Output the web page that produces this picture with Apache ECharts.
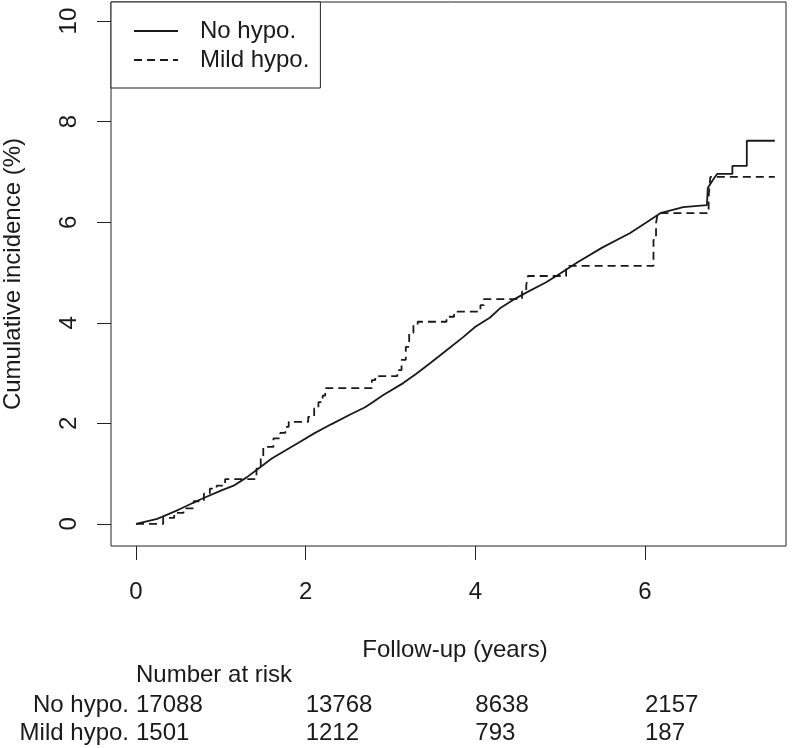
<!DOCTYPE html>
<html>
<head>
<meta charset="utf-8">
<script src="https://cdn.jsdelivr.net/npm/echarts@6/dist/echarts.min.js"></script>
<style>
html,body{margin:0;padding:0;background:#fff;}
#chart{width:800px;height:748px;}
</style>
</head>
<body>
<div id="chart"></div>
<script>
// ---- data ----
const seriesNames = ['No hypo.', 'Mild hypo.'];
const xTicks = [0, 2, 4, 6];
const yTicks = [0, 2, 4, 6, 8, 10];
// cumulative incidence (%) vs follow-up (years)
const noHypoCurve = [
  [0,0],[0.25,0.1],[0.5,0.28],[0.75,0.48],[1.0,0.66],[1.15,0.76],[1.3,0.92],[1.46,1.12],
  [1.6,1.3],[1.8,1.5],[1.93,1.63],[2.1,1.8],[2.3,1.98],[2.52,2.17],[2.7,2.32],[2.79,2.42],
  [2.91,2.56],[3.15,2.8],[3.3,2.98],[3.47,3.2],[3.65,3.44],[3.86,3.72],[4.0,3.92],[4.17,4.1],
  [4.3,4.3],[4.44,4.45],[4.6,4.6],[4.84,4.81],[5.0,4.98],[5.2,5.2],[5.5,5.5],[5.82,5.78],
  [6.02,6.0],[6.18,6.18],[6.45,6.3],[6.73,6.34],[6.74,6.68],[6.8,6.84],[6.85,6.96],
  [7.03,6.96],[7.03,7.12],[7.2,7.12],[7.2,7.62],[7.53,7.62]
];
// step changes: value holds from time onward
const mildHypoCurve = [
  [0,0],[0.32,0.12],[0.45,0.22],[0.56,0.31],[0.68,0.45],[0.8,0.6],[0.87,0.7],[0.95,0.76],
  [1.05,0.89],[1.42,1.1],[1.47,1.3],[1.5,1.53],[1.62,1.7],[1.7,1.81],[1.76,1.93],[1.8,2.03],
  [2.03,2.13],[2.1,2.3],[2.15,2.42],[2.2,2.55],[2.23,2.7],[2.78,2.86],[2.82,2.94],[3.08,3.06],
  [3.13,3.26],[3.18,3.52],[3.22,3.8],[3.27,3.96],[3.32,4.02],[3.66,4.12],[3.75,4.22],
  [4.06,4.35],[4.1,4.47],[4.55,4.62],[4.6,4.75],[4.62,4.93],[5.07,5.13],[6.1,5.65],
  [6.13,5.98],[6.15,6.18],[6.75,6.5],[6.77,6.9],[7.53,6.9]
];
const riskTitle = 'Number at risk';
const riskTimes = [0, 2, 4, 6];
const riskNoHypo = [17088, 13768, 8638, 2157];
const riskMildHypo = [1501, 1212, 793, 187];

// ---- chart ----
const FONT = "'Liberation Sans', Arial, sans-serif";
const INK = '#1a1a1a';
const X_MIN = -0.295, X_MAX = 7.662;

const riskData = [];
riskTimes.forEach((t, i) => {
  riskData.push([t, seriesNames[0], riskNoHypo[i]]);
  riskData.push([t, seriesNames[1], riskMildHypo[i]]);
});

const chart = echarts.init(document.getElementById('chart'), null, {renderer: 'canvas'});
chart.setOption({
  animation: false,
  backgroundColor: '#fff',
  textStyle: {fontFamily: FONT, color: INK},
  grid: [
    {left: 111, right: 14, top: 2, height: 544, show: true, borderColor: '#222', borderWidth: 1,
     outerBoundsMode: 'none', containLabel: false},
    {left: 136, right: 14, top: 691, height: 56, outerBoundsMode: 'none', containLabel: false}
  ],
  legend: {
    left: 111, top: 2, orient: 'vertical',
    backgroundColor: '#fff', borderColor: '#222', borderWidth: 1,
    padding: [17, 11, 16, 22], itemGap: 5, itemWidth: 44, itemHeight: 14,
    itemStyle: {opacity: 0},
    textStyle: {fontSize: 24, fontFamily: FONT, color: INK, padding: [0, 0, 0, 17], lineHeight: 24},
    data: seriesNames
  },
  xAxis: [
    {type: 'value', gridIndex: 0, min: X_MIN, max: X_MAX,
     axisLine: {show: false, onZero: false}, splitLine: {show: false},
     axisTick: {show: true, customValues: xTicks, length: 14, lineStyle: {color: '#222', width: 1}},
     axisLabel: {customValues: xTicks, margin: 34, fontSize: 24, color: INK, fontFamily: FONT},
     name: 'Follow-up (years)', nameLocation: 'middle', nameGap: 92,
     nameTextStyle: {fontSize: 24, color: INK, fontFamily: FONT, padding: [0, 0, 0, 13]}},
    {type: 'value', gridIndex: 1, min: 0, max: X_MAX, show: false}
  ],
  yAxis: [
    {type: 'value', gridIndex: 0, min: -0.44, max: 10.38,
     axisLine: {show: false, onZero: false}, splitLine: {show: false},
     axisTick: {show: true, customValues: yTicks, length: 14, lineStyle: {color: '#222', width: 1}},
     axisLabel: {customValues: yTicks, rotate: 90, margin: 30, fontSize: 24, color: INK, fontFamily: FONT},
     name: 'Cumulative incidence (%)', nameLocation: 'middle', nameGap: 86, nameRotate: 90,
     nameTextStyle: {fontSize: 24, color: INK, fontFamily: FONT}},
    {type: 'category', gridIndex: 1, data: seriesNames, inverse: true,
     axisLine: {show: false, onZero: false}, axisTick: {show: false}, splitLine: {show: false},
     axisLabel: {interval: 0, margin: 7, fontSize: 24, color: INK, fontFamily: FONT},
     name: riskTitle, nameLocation: 'start', nameGap: 4,
     nameTextStyle: {fontSize: 24, color: INK, fontFamily: FONT, align: 'left', verticalAlign: 'bottom'}}
  ],
  series: [
    {name: seriesNames[0], type: 'line', xAxisIndex: 0, yAxisIndex: 0, data: noHypoCurve,
     symbol: 'none', lineStyle: {color: INK, width: 1.8, type: 'solid'}, itemStyle: {color: INK}},
    {name: seriesNames[1], type: 'line', xAxisIndex: 0, yAxisIndex: 0, data: mildHypoCurve,
     step: 'end', symbol: 'none', lineStyle: {color: INK, width: 1.8, type: [8, 5]}, itemStyle: {color: INK}},
    {name: 'risk', type: 'scatter', xAxisIndex: 1, yAxisIndex: 1, data: riskData,
     symbolSize: 0, silent: true, encode: {x: 0, y: 1}, itemStyle: {opacity: 1, color: INK},
     label: {show: true, position: 'right', distance: 0, fontSize: 24, color: INK, fontFamily: FONT,
             opacity: 1, formatter: p => String(p.value[2])}}
  ]
});
</script>
</body>
</html>
